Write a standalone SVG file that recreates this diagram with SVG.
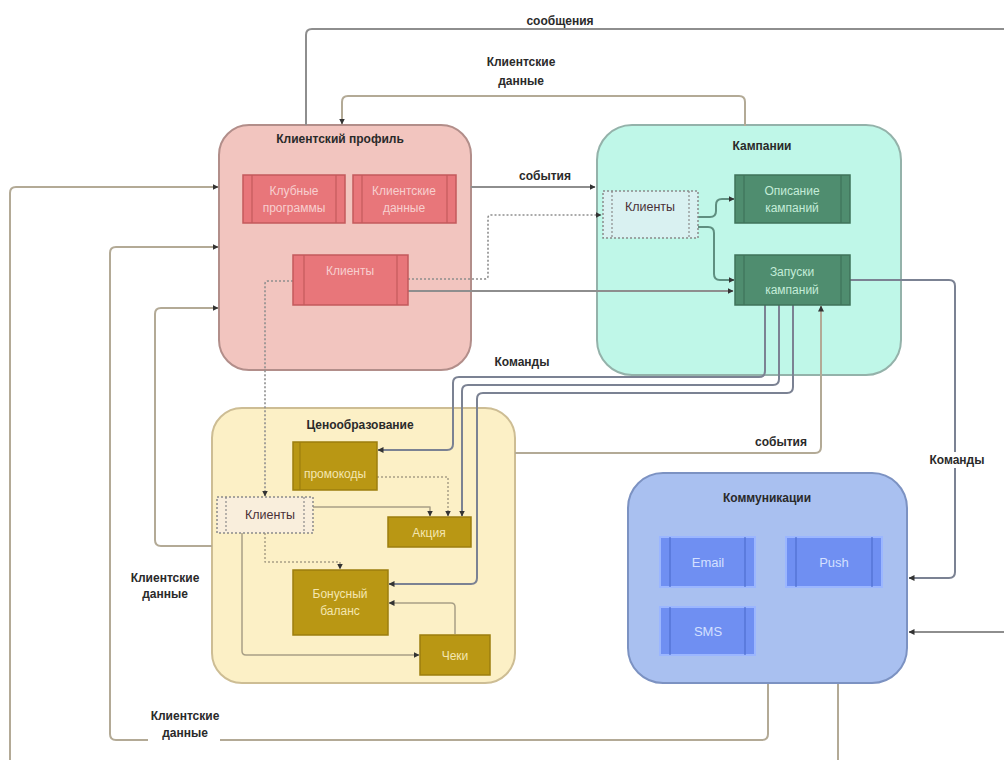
<svg xmlns="http://www.w3.org/2000/svg" width="1004" height="760" viewBox="0 0 1004 760">
<style>
  text{font-family:"Liberation Sans","DejaVu Sans",sans-serif;text-anchor:middle}
  .title{font-size:12px;font-weight:bold;fill:#2a2a2a}
  .lbl{font-size:12px;font-weight:bold;fill:#2a2a2a}
  .pt{font-size:12px;fill:#f7cfcf}
  .gt{font-size:12px;fill:#c4ecd8}
  .yt{font-size:12px;fill:#f4e6b0}
  .bt{font-size:13px;fill:#d4e0ff}
  .dt{font-size:12.5px;fill:#4a3038}
  .c{fill:none;stroke-width:2;stroke-linejoin:round}
  .data{stroke:#b3aa96}
  .gray{stroke:#8e8e8e}
  .cmd{stroke:#7b8293}
  .dot{stroke-dasharray:2 2;stroke-width:1.6}
  .thin{stroke:#a89f86;stroke-width:1.5}
  .grn{stroke:#5f8f80;stroke-width:2}
</style>
<defs>
  <marker id="a" markerWidth="6" markerHeight="6" refX="5.5" refY="3" orient="auto" markerUnits="userSpaceOnUse">
    <path d="M0,0 L6,3 L0,6 z" fill="#333"/>
  </marker>
</defs>
<rect width="1004" height="760" fill="#ffffff"/>

<!-- containers -->
<g id="profile">
  <rect x="219" y="125" width="252" height="245" rx="30" fill="#f2c5bf" stroke="#b28e8a" stroke-width="2"/>
  <text class="title" x="340" y="143">Клиентский профиль</text>
</g>
<g id="campaigns">
  <rect x="597" y="125" width="304" height="250" rx="35" fill="#bff7e8" stroke="#94b2aa" stroke-width="2"/>
  <text class="title" x="762" y="150">Кампании</text>
</g>
<g id="pricing">
  <rect x="212" y="408" width="303" height="275" rx="30" fill="#fcf0c6" stroke="#cdbd94" stroke-width="2"/>
  <text class="title" x="360" y="429">Ценообразование</text>
</g>
<g id="communications">
  <rect x="628" y="473" width="279" height="210" rx="35" fill="#a9c0f0" stroke="#7c92c2" stroke-width="2"/>
  <text class="title" x="767" y="502">Коммуникации</text>
</g>

<!-- connectors -->
<g id="connectors">
  <!-- client data lines -->
  <path class="c data" d="M745,126 V102 Q745,96 739,96 H348 Q342,96 342,102 V124" marker-end="url(#a)"/>
  <path class="c data" d="M838,684 V762"/>
  <path class="c data" d="M10,762 V193 Q10,187 16,187 H218" marker-end="url(#a)"/>
  <path class="c data" d="M768,684 V734 Q768,740 762,740 H116 Q110,740 110,734 V253 Q110,247 116,247 H218" marker-end="url(#a)"/>
  <path class="c data" d="M212,546 H161 Q155,546 155,540 V314 Q155,308 161,308 H218" marker-end="url(#a)"/>
  <!-- messages -->
  <path class="c gray" d="M306,125 V35 Q306,29 312,29 H1004"/>
  <path class="c gray" d="M1004,632 H909" marker-end="url(#a)"/>
  <!-- events -->
  <path class="c gray" d="M471,187 H595" marker-end="url(#a)"/>
  <path class="c data" d="M515,453 H815 Q821,453 821,447 V306" marker-end="url(#a)"/>
  <!-- commands -->
  <path class="c cmd" d="M765,305 V371 Q765,377 759,377 H459 Q453,377 453,383 V444 Q453,450 447,450 H378" marker-end="url(#a)"/>
  <path class="c cmd" d="M779,305 V379 Q779,385 773,385 H468 Q462,385 462,391 V516" marker-end="url(#a)"/>
  <path class="c cmd" d="M793,305 V387 Q793,393 787,393 H483 Q477,393 477,399 V578 Q477,584 471,584 H389" marker-end="url(#a)"/>
  <path class="c cmd" d="M850,280 H949 Q955,280 955,286 V572 Q955,578 949,578 H909" marker-end="url(#a)"/>
  <!-- clients from profile -->
  <path class="c gray" d="M408,291 H733" marker-end="url(#a)"/>
  <path class="c gray dot" d="M408,279 H485 Q488,279 488,276 V218 Q488,215 491,215 H601" marker-end="url(#a)"/>
  <path class="c gray dot" d="M293,281 H268 Q265,281 265,284 V496" marker-end="url(#a)"/>
  <!-- campaigns internal -->
  <path class="c grn" d="M698,217 H710 Q716,217 716,211 V205 Q716,199 722,199 H734" marker-end="url(#a)"/>
  <path class="c grn" d="M698,227 H708 Q714,227 714,233 V274 Q714,280 720,280 H734" marker-end="url(#a)"/>
  <!-- pricing internal -->
  <path class="c thin dot" d="M377,477 H448 V516" marker-end="url(#a)"/>
  <path class="c thin" d="M313,507 H430 V516" marker-end="url(#a)"/>
  <path class="c thin dot" d="M265,533 V562 H340 V569" marker-end="url(#a)"/>
  <path class="c thin" d="M242,533 V651 Q242,655 246,655 H419" marker-end="url(#a)"/>
  <path class="c thin" d="M455,634 V607 Q455,603 451,603 H389" marker-end="url(#a)"/>
</g>

<!-- inner nodes: profile -->
<g id="club-programs">
  <rect x="243" y="175" width="102" height="48" fill="#e8767a" stroke="#c35a5c" stroke-width="1.5"/>
  <path d="M252,175 V223 M336,175 V223" stroke="#c35a5c" stroke-width="1.2"/>
  <text class="pt" x="294" y="195">Клубные</text>
  <text class="pt" x="294" y="212">программы</text>
</g>
<g id="client-data">
  <rect x="353" y="175" width="103" height="48" fill="#e8767a" stroke="#c35a5c" stroke-width="1.5"/>
  <path d="M362,175 V223 M447,175 V223" stroke="#c35a5c" stroke-width="1.2"/>
  <text class="pt" x="404" y="195">Клиентские</text>
  <text class="pt" x="404" y="212">данные</text>
</g>
<g id="profile-clients">
  <rect x="293" y="255" width="115" height="50" fill="#e8767a" stroke="#c35a5c" stroke-width="1.5"/>
  <path d="M304,255 V305 M397,255 V305" stroke="#c35a5c" stroke-width="1.2"/>
  <text class="pt" x="350" y="275">Клиенты</text>
</g>

<!-- campaigns -->
<g id="campaign-clients">
  <rect x="603" y="191" width="95" height="47" fill="#d9f1f1" stroke="#8a8a8a" stroke-width="1.5" stroke-dasharray="2 2"/>
  <path d="M612,191 V238 M689,191 V238" stroke="#8a8a8a" stroke-width="1.2" stroke-dasharray="2 2"/>
  <text class="dt" x="650" y="211">Клиенты</text>
</g>
<g id="campaign-descr">
  <rect x="735" y="175" width="115" height="48" fill="#4f8d6f" stroke="#3f735a" stroke-width="1.5"/>
  <path d="M744,175 V223 M841,175 V223" stroke="#3f735a" stroke-width="1.2"/>
  <text class="gt" x="792" y="195">Описание</text>
  <text class="gt" x="792" y="212">кампаний</text>
</g>
<g id="campaign-launch">
  <rect x="735" y="255" width="115" height="50" fill="#4f8d6f" stroke="#3f735a" stroke-width="1.5"/>
  <path d="M744,255 V305 M841,255 V305" stroke="#3f735a" stroke-width="1.2"/>
  <text class="gt" x="792" y="276">Запуски</text>
  <text class="gt" x="792" y="294">кампаний</text>
</g>

<!-- pricing -->
<g id="promocodes">
  <rect x="293" y="442" width="84" height="48" fill="#b99714" stroke="#9c7e0e" stroke-width="1.5"/>
  <path d="M300,442 V490" stroke="#9c7e0e" stroke-width="1.2"/>
  <text class="yt" x="335" y="478">промокоды</text>
</g>
<g id="pricing-clients">
  <rect x="217" y="497" width="96" height="36" fill="#f9eedc" stroke="#8a8a8a" stroke-width="1.5" stroke-dasharray="2 2"/>
  <path d="M226,497 V533 M304,497 V533" stroke="#8a8a8a" stroke-width="1.2" stroke-dasharray="2 2"/>
  <text class="dt" x="270" y="519">Клиенты</text>
</g>
<g id="action">
  <rect x="388" y="517" width="83" height="30" fill="#b99714" stroke="#9c7e0e" stroke-width="1.5"/>
  <text class="yt" x="429" y="537">Акция</text>
</g>
<g id="bonus">
  <rect x="293" y="570" width="95" height="65" fill="#b99714" stroke="#9c7e0e" stroke-width="1.5"/>
  <text class="yt" x="340" y="598">Бонусный</text>
  <text class="yt" x="340" y="615">баланс</text>
</g>
<g id="receipts">
  <rect x="420" y="635" width="70" height="40" fill="#b99714" stroke="#9c7e0e" stroke-width="1.5"/>
  <text class="yt" x="455" y="660">Чеки</text>
</g>

<!-- communications -->
<g id="email">
  <rect x="660" y="537" width="95" height="50" fill="#6f8ff2" stroke="#9bb6ff" stroke-width="2"/>
  <path d="M670,537 V587 M745,537 V587" stroke="#4f6fcf" stroke-width="1.2"/>
  <text class="bt" x="708" y="567">Email</text>
</g>
<g id="push">
  <rect x="786" y="537" width="96" height="50" fill="#6f8ff2" stroke="#9bb6ff" stroke-width="2"/>
  <path d="M796,537 V587 M872,537 V587" stroke="#4f6fcf" stroke-width="1.2"/>
  <text class="bt" x="834" y="567">Push</text>
</g>
<g id="sms">
  <rect x="660" y="607" width="95" height="48" fill="#6f8ff2" stroke="#9bb6ff" stroke-width="2"/>
  <path d="M670,607 V655 M745,607 V655" stroke="#4f6fcf" stroke-width="1.2"/>
  <text class="bt" x="708" y="636">SMS</text>
</g>

<!-- connector labels -->
<g id="labels">
  <text class="lbl" x="560" y="25">сообщения</text>
  <text class="lbl" x="521" y="66">Клиентские</text>
  <text class="lbl" x="521" y="85">данные</text>
  <text class="lbl" x="545" y="180">события</text>
  <text class="lbl" x="522" y="366">Команды</text>
  <text class="lbl" x="781" y="446">события</text>
  <rect x="928" y="452" width="58" height="16" fill="#ffffff"/>
  <text class="lbl" x="957" y="464">Команды</text>
  <text class="lbl" x="165" y="582">Клиентские</text>
  <text class="lbl" x="165" y="598">данные</text>
  <rect x="148" y="706" width="72" height="36" fill="#ffffff"/>
  <text class="lbl" x="185" y="720">Клиентские</text>
  <text class="lbl" x="185" y="737">данные</text>
</g>
</svg>
